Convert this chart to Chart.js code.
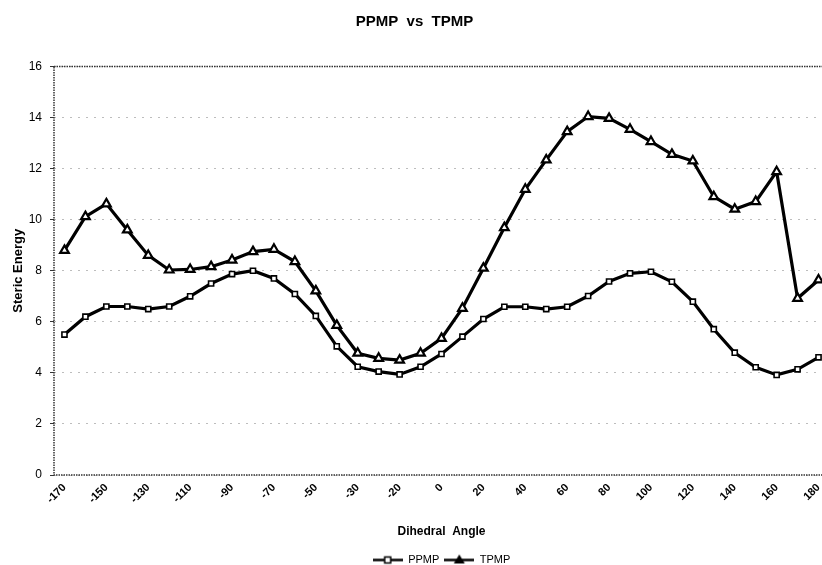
<!DOCTYPE html>
<html><head><meta charset="utf-8">
<script src="https://cdn.jsdelivr.net/npm/chart.js@4/dist/chart.umd.min.js"></script>
<style>
html,body{margin:0;padding:0;background:#fff;overflow:hidden;width:822px;height:565px}
#wrap{width:822px;height:565px;overflow:hidden;position:relative;background:#fff}
canvas{position:absolute;left:0;top:0}
</style></head>
<body><div id="wrap"><canvas id="c" width="840" height="575"></canvas></div>
<script>
const angles = [-170,-160,-150,-140,-130,-120,-110,-100,-90,-80,-70,-60,-50,-40,-30,-25,-20,-10,0,10,20,30,40,50,60,70,80,90,100,110,120,130,140,150,160,170,180];
const ppmp = [5.5,6.2,6.6,6.6,6.5,6.6,7.0,7.5,7.87,8.0,7.7,7.09,6.23,5.04,4.24,4.05,3.94,4.24,4.74,5.42,6.11,6.59,6.59,6.5,6.59,7.01,7.58,7.9,7.96,7.57,6.79,5.71,4.79,4.22,3.92,4.14,4.61];
const tpmp = [8.8,10.12,10.62,9.6,8.6,8.03,8.05,8.16,8.42,8.75,8.84,8.36,7.21,5.86,4.77,4.57,4.5,4.77,5.35,6.53,8.1,9.69,11.19,12.34,13.45,14.04,13.97,13.54,13.06,12.56,12.3,10.9,10.41,10.71,11.88,6.92,7.64];
const yTickValues = [0,2,4,6,8,10,12,14,16];
const seriesNames = ['PPMP','TPMP'];

const FONT = "Arial, 'Liberation Sans', Helvetica, sans-serif";

function legendImage(kind){
  const cv = document.createElement('canvas');
  cv.width = 30; cv.height = 12;
  const g = cv.getContext('2d');
  g.strokeStyle = '#000'; g.lineWidth = 2.5;
  g.beginPath(); g.moveTo(0,6.5); g.lineTo(30,6.5); g.stroke();
  g.lineWidth = 1.5; g.fillStyle = '#fff';
  if (kind === 'rect') {
    g.fillRect(12,3.5,6,6); g.strokeRect(12,3.5,6,6);
  } else {
    g.fillStyle = '#000';
    g.beginPath(); g.moveTo(15,1); g.lineTo(20.5,10); g.lineTo(9.5,10); g.closePath(); g.fill();
  }
  return cv;
}
const legendImgs = [legendImage('rect'), legendImage('triangle')];

const frame = {
  id: 'frame',
  afterDatasetsDraw(chart){
    const a = chart.chartArea, ctx = chart.ctx;
    ctx.save();
    ctx.strokeStyle = '#333'; ctx.lineWidth = 1.5; ctx.setLineDash([1.5,1]);
    ctx.strokeRect(a.left, a.top, a.right - a.left, a.bottom - a.top);
    ctx.restore();
  }
};

new Chart(document.getElementById('c'), {
  type: 'line',
  data: {
    labels: angles,
    datasets: [
      { label: seriesNames[0], data: ppmp, borderColor: '#000', borderWidth: 3.2, tension: 0,
        pointStyle: 'rect', pointRadius: 3.6, pointBackgroundColor: '#fff', pointBorderColor: '#000', pointBorderWidth: 1.6 },
      { label: seriesNames[1], data: tpmp, borderColor: '#000', borderWidth: 3.2, tension: 0,
        pointStyle: 'triangle', pointRadius: 5, pointBackgroundColor: '#fff', pointBorderColor: '#000', pointBorderWidth: 2.2 }
    ]
  },
  options: {
    responsive: false, animation: false, devicePixelRatio: 1,
    layout: { padding: { left: 0, right: 11, top: 0, bottom: 0 } },
    plugins: {
      tooltip: { enabled: false },
      title: { display: true, text: 'PPMP  vs  TPMP', color: '#000',
        font: { family: FONT, size: 15, weight: 'bold' }, padding: { top: 13, bottom: 35.5 } },
      legend: { display: true, position: 'bottom', fullSize: false,
        labels: { usePointStyle: true, pointStyleWidth: 30, padding: 5, color: '#000',
          font: { family: FONT, size: 11 },
          generateLabels: (chart) => seriesNames.map((n,i) => ({
            text: n, pointStyle: legendImgs[i], fillStyle: '#fff', strokeStyle: '#000',
            lineWidth: 0, hidden: false, datasetIndex: i, fontColor: '#000'
          }))
        } }
    },
    scales: {
      x: {
        offset: true,
        grid: { display: false, drawTicks: false },
        border: { display: false },
        afterFit(s){ s.height = 74; },
        ticks: { autoSkip: false, maxRotation: 45, minRotation: 45, padding: 6, color: '#000',
          font: { family: FONT, size: 11, weight: 'bold' },
          callback(v, i){ return i % 2 === 0 ? String(angles[i]) : null; } },
        title: { display: true, text: 'Dihedral  Angle', color: '#000',
          font: { family: FONT, size: 12, weight: 'bold' }, padding: { top: 4, bottom: 10 } }
      },
      y: {
        min: 0, max: 16,
        afterBuildTicks(s){ s.ticks = yTickValues.map(v => ({ value: v })); },
        afterFit(s){ s.width = 54; },
        grid: { color: '#bdbdbd', tickLength: 4, tickColor: '#333', tickBorderDash: [] },
        border: { display: false, dash: [2,6] },
        ticks: { padding: 8, color: '#000', font: { family: FONT, size: 12 } },
        title: { display: true, text: 'Steric Energy', color: '#000',
          font: { family: FONT, size: 13, weight: 'bold' }, padding: { top: 11, bottom: 4 } }
      }
    }
  },
  plugins: [frame]
});
</script>
</body></html>
